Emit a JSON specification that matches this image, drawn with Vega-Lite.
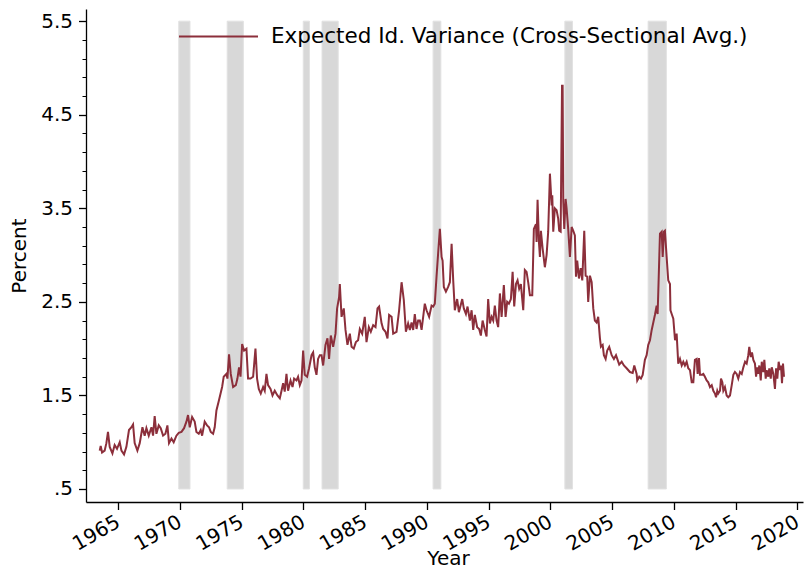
{
  "$schema": "https://vega.github.io/schema/vega-lite/v6.json",
  "width": 717,
  "height": 493,
  "autosize": {"type": "none"},
  "padding": {"left": 86, "top": 9, "right": 1, "bottom": 69},
  "config": {
    "view": {"stroke": null},
    "font": "DejaVu Sans",
    "axis": {"grid": false, "labelFont": "DejaVu Sans", "titleFont": "DejaVu Sans", "labelColor": "#000", "titleColor": "#000", "labelFontSize": 20, "titleFontSize": 20, "titleFontWeight": "normal", "domainColor": "#000", "tickColor": "#000"},
    "legend": {"labelFont": "DejaVu Sans", "labelFontSize": 21.5, "labelColor": "#000", "labelLimit": 0}
  },
  "datasets": {
    "rec": [
      {"start": 1969.92, "end": 1970.83},
      {"start": 1973.84, "end": 1975.15},
      {"start": 1980.0, "end": 1980.5},
      {"start": 1981.52, "end": 1982.83},
      {"start": 1990.51, "end": 1991.14},
      {"start": 2001.18, "end": 2001.8},
      {"start": 2007.92, "end": 2009.4}
    ],
    "series": [
      {"year":1963.52,"value":0.91},{"year":1963.60,"value":0.96},{"year":1963.71,"value":0.89},{"year":1963.92,"value":0.91},{"year":1964.06,"value":0.99},{"year":1964.19,"value":1.11},{"year":1964.33,"value":0.95},{"year":1964.55,"value":0.88},{"year":1964.73,"value":0.97},{"year":1964.92,"value":0.93},{"year":1965.14,"value":1.00},{"year":1965.28,"value":0.91},{"year":1965.49,"value":0.87},{"year":1965.68,"value":0.95},{"year":1965.89,"value":1.13},{"year":1966.09,"value":1.16},{"year":1966.22,"value":1.19},{"year":1966.35,"value":0.99},{"year":1966.57,"value":0.91},{"year":1966.76,"value":0.99},{"year":1966.98,"value":1.16},{"year":1967.16,"value":1.07},{"year":1967.30,"value":1.15},{"year":1967.49,"value":1.07},{"year":1967.71,"value":1.16},{"year":1967.84,"value":1.07},{"year":1967.97,"value":1.28},{"year":1968.11,"value":1.09},{"year":1968.30,"value":1.18},{"year":1968.46,"value":1.15},{"year":1968.65,"value":1.07},{"year":1968.84,"value":1.09},{"year":1969.00,"value":1.18},{"year":1969.13,"value":0.99},{"year":1969.33,"value":1.04},{"year":1969.51,"value":1.00},{"year":1969.73,"value":1.07},{"year":1969.92,"value":1.10},{"year":1970.14,"value":1.11},{"year":1970.35,"value":1.15},{"year":1970.54,"value":1.22},{"year":1970.67,"value":1.29},{"year":1970.81,"value":1.16},{"year":1971.00,"value":1.27},{"year":1971.21,"value":1.22},{"year":1971.35,"value":1.11},{"year":1971.54,"value":1.09},{"year":1971.70,"value":1.13},{"year":1971.81,"value":1.07},{"year":1972.02,"value":1.22},{"year":1972.21,"value":1.18},{"year":1972.37,"value":1.16},{"year":1972.51,"value":1.11},{"year":1972.70,"value":1.09},{"year":1972.83,"value":1.16},{"year":1972.97,"value":1.34},{"year":1973.18,"value":1.45},{"year":1973.43,"value":1.59},{"year":1973.56,"value":1.70},{"year":1973.78,"value":1.73},{"year":1973.86,"value":1.68},{"year":1973.99,"value":1.94},{"year":1974.13,"value":1.73},{"year":1974.32,"value":1.59},{"year":1974.54,"value":1.61},{"year":1974.67,"value":1.68},{"year":1974.80,"value":1.80},{"year":1974.92,"value":1.70},{"year":1975.05,"value":2.05},{"year":1975.21,"value":1.98},{"year":1975.40,"value":2.00},{"year":1975.53,"value":1.68},{"year":1975.73,"value":1.68},{"year":1975.94,"value":1.70},{"year":1976.13,"value":2.00},{"year":1976.26,"value":1.68},{"year":1976.40,"value":1.57},{"year":1976.56,"value":1.52},{"year":1976.75,"value":1.59},{"year":1976.88,"value":1.55},{"year":1977.02,"value":1.73},{"year":1977.15,"value":1.61},{"year":1977.35,"value":1.57},{"year":1977.51,"value":1.50},{"year":1977.69,"value":1.55},{"year":1977.91,"value":1.50},{"year":1978.10,"value":1.47},{"year":1978.24,"value":1.55},{"year":1978.37,"value":1.63},{"year":1978.50,"value":1.54},{"year":1978.64,"value":1.73},{"year":1978.77,"value":1.55},{"year":1978.97,"value":1.66},{"year":1979.13,"value":1.59},{"year":1979.26,"value":1.68},{"year":1979.45,"value":1.66},{"year":1979.58,"value":1.70},{"year":1979.72,"value":1.61},{"year":1979.86,"value":1.66},{"year":1979.99,"value":1.98},{"year":1980.12,"value":1.72},{"year":1980.31,"value":1.70},{"year":1980.47,"value":1.79},{"year":1980.67,"value":1.93},{"year":1980.80,"value":1.96},{"year":1980.93,"value":1.80},{"year":1981.07,"value":1.72},{"year":1981.20,"value":1.89},{"year":1981.34,"value":1.93},{"year":1981.48,"value":1.93},{"year":1981.61,"value":1.82},{"year":1981.80,"value":2.04},{"year":1981.96,"value":2.11},{"year":1982.09,"value":1.89},{"year":1982.23,"value":2.14},{"year":1982.42,"value":2.02},{"year":1982.61,"value":2.16},{"year":1982.74,"value":2.43},{"year":1982.90,"value":2.55},{"year":1982.96,"value":2.69},{"year":1983.10,"value":2.34},{"year":1983.28,"value":2.43},{"year":1983.42,"value":2.20},{"year":1983.58,"value":2.04},{"year":1983.77,"value":2.16},{"year":1983.91,"value":2.02},{"year":1984.09,"value":2.00},{"year":1984.26,"value":2.07},{"year":1984.44,"value":2.09},{"year":1984.58,"value":2.21},{"year":1984.77,"value":2.16},{"year":1984.98,"value":2.34},{"year":1985.12,"value":2.07},{"year":1985.31,"value":2.23},{"year":1985.47,"value":2.18},{"year":1985.66,"value":2.25},{"year":1985.85,"value":2.23},{"year":1986.01,"value":2.43},{"year":1986.14,"value":2.45},{"year":1986.34,"value":2.27},{"year":1986.47,"value":2.21},{"year":1986.66,"value":2.18},{"year":1986.82,"value":2.11},{"year":1986.95,"value":2.36},{"year":1987.15,"value":2.34},{"year":1987.28,"value":2.16},{"year":1987.55,"value":2.18},{"year":1987.76,"value":2.41},{"year":1987.96,"value":2.71},{"year":1988.14,"value":2.52},{"year":1988.31,"value":2.18},{"year":1988.49,"value":2.27},{"year":1988.63,"value":2.20},{"year":1988.77,"value":2.28},{"year":1988.90,"value":2.20},{"year":1989.03,"value":2.37},{"year":1989.17,"value":2.21},{"year":1989.30,"value":2.30},{"year":1989.44,"value":2.30},{"year":1989.58,"value":2.20},{"year":1989.84,"value":2.48},{"year":1989.98,"value":2.41},{"year":1990.19,"value":2.34},{"year":1990.39,"value":2.46},{"year":1990.52,"value":2.45},{"year":1990.65,"value":2.48},{"year":1990.79,"value":2.77},{"year":1990.92,"value":3.02},{"year":1991.06,"value":3.28},{"year":1991.20,"value":2.98},{"year":1991.28,"value":2.94},{"year":1991.38,"value":2.66},{"year":1991.55,"value":2.61},{"year":1991.73,"value":2.66},{"year":1991.87,"value":2.71},{"year":1992.01,"value":3.12},{"year":1992.14,"value":2.73},{"year":1992.27,"value":2.41},{"year":1992.46,"value":2.53},{"year":1992.60,"value":2.39},{"year":1992.74,"value":2.46},{"year":1992.87,"value":2.53},{"year":1993.00,"value":2.43},{"year":1993.17,"value":2.37},{"year":1993.30,"value":2.45},{"year":1993.49,"value":2.30},{"year":1993.63,"value":2.41},{"year":1993.76,"value":2.20},{"year":1993.89,"value":2.36},{"year":1994.08,"value":2.23},{"year":1994.24,"value":2.21},{"year":1994.38,"value":2.14},{"year":1994.52,"value":2.30},{"year":1994.70,"value":2.20},{"year":1994.84,"value":2.13},{"year":1994.97,"value":2.53},{"year":1995.11,"value":2.27},{"year":1995.25,"value":2.34},{"year":1995.38,"value":2.30},{"year":1995.51,"value":2.46},{"year":1995.65,"value":2.30},{"year":1995.78,"value":2.23},{"year":1995.92,"value":2.59},{"year":1996.06,"value":2.34},{"year":1996.24,"value":2.68},{"year":1996.38,"value":2.34},{"year":1996.51,"value":2.50},{"year":1996.65,"value":2.48},{"year":1996.81,"value":2.53},{"year":1996.95,"value":2.82},{"year":1997.08,"value":2.45},{"year":1997.22,"value":2.69},{"year":1997.35,"value":2.73},{"year":1997.48,"value":2.64},{"year":1997.62,"value":2.69},{"year":1997.81,"value":2.41},{"year":1997.94,"value":2.84},{"year":1998.08,"value":2.82},{"year":1998.21,"value":2.71},{"year":1998.35,"value":2.57},{"year":1998.54,"value":2.57},{"year":1998.67,"value":3.28},{"year":1998.84,"value":3.33},{"year":1998.89,"value":3.14},{"year":1998.97,"value":3.59},{"year":1999.08,"value":3.14},{"year":1999.16,"value":2.98},{"year":1999.24,"value":3.26},{"year":1999.38,"value":3.07},{"year":1999.48,"value":2.96},{"year":1999.56,"value":2.87},{"year":1999.70,"value":3.00},{"year":1999.83,"value":3.25},{"year":1999.97,"value":3.87},{"year":2000.11,"value":3.53},{"year":2000.16,"value":3.64},{"year":2000.24,"value":3.25},{"year":2000.37,"value":3.50},{"year":2000.51,"value":3.48},{"year":2000.64,"value":3.39},{"year":2000.72,"value":3.26},{"year":2000.84,"value":3.25},{"year":2000.95,"value":4.81},{"year":2001.00,"value":4.81},{"year":2001.05,"value":3.57},{"year":2001.13,"value":3.28},{"year":2001.24,"value":3.60},{"year":2001.32,"value":3.50},{"year":2001.45,"value":3.28},{"year":2001.59,"value":2.98},{"year":2001.73,"value":3.30},{"year":2001.86,"value":3.26},{"year":2001.99,"value":3.21},{"year":2002.08,"value":2.77},{"year":2002.18,"value":2.94},{"year":2002.32,"value":2.75},{"year":2002.46,"value":2.86},{"year":2002.59,"value":2.73},{"year":2002.75,"value":3.26},{"year":2002.86,"value":2.78},{"year":2002.99,"value":2.77},{"year":2003.07,"value":2.50},{"year":2003.21,"value":2.78},{"year":2003.35,"value":2.71},{"year":2003.48,"value":2.43},{"year":2003.61,"value":2.30},{"year":2003.75,"value":2.28},{"year":2003.88,"value":2.34},{"year":2004.02,"value":2.11},{"year":2004.10,"value":2.02},{"year":2004.24,"value":2.04},{"year":2004.34,"value":1.93},{"year":2004.48,"value":1.89},{"year":2004.61,"value":1.98},{"year":2004.77,"value":2.02},{"year":2004.97,"value":1.93},{"year":2005.15,"value":1.89},{"year":2005.32,"value":1.93},{"year":2005.45,"value":1.88},{"year":2005.58,"value":1.83},{"year":2005.78,"value":1.86},{"year":2005.96,"value":1.82},{"year":2006.18,"value":1.79},{"year":2006.45,"value":1.75},{"year":2006.67,"value":1.74},{"year":2006.80,"value":1.82},{"year":2006.99,"value":1.73},{"year":2007.04,"value":1.66},{"year":2007.20,"value":1.70},{"year":2007.34,"value":1.68},{"year":2007.48,"value":1.72},{"year":2007.66,"value":1.88},{"year":2007.80,"value":1.93},{"year":2007.93,"value":2.04},{"year":2008.07,"value":2.09},{"year":2008.21,"value":2.20},{"year":2008.34,"value":2.28},{"year":2008.47,"value":2.36},{"year":2008.61,"value":2.46},{"year":2008.69,"value":2.37},{"year":2008.74,"value":2.59},{"year":2008.88,"value":3.23},{"year":2009.02,"value":3.25},{"year":2009.10,"value":2.98},{"year":2009.20,"value":3.25},{"year":2009.28,"value":3.26},{"year":2009.42,"value":2.98},{"year":2009.55,"value":2.73},{"year":2009.69,"value":2.69},{"year":2009.73,"value":2.41},{"year":2009.83,"value":2.37},{"year":2009.96,"value":2.32},{"year":2010.10,"value":2.09},{"year":2010.23,"value":2.16},{"year":2010.36,"value":1.84},{"year":2010.50,"value":1.89},{"year":2010.64,"value":1.82},{"year":2010.77,"value":1.86},{"year":2010.90,"value":1.82},{"year":2011.04,"value":1.86},{"year":2011.17,"value":1.79},{"year":2011.31,"value":1.77},{"year":2011.45,"value":1.64},{"year":2011.58,"value":1.64},{"year":2011.71,"value":1.88},{"year":2011.85,"value":1.89},{"year":2011.93,"value":1.73},{"year":2012.04,"value":1.90},{"year":2012.12,"value":1.72},{"year":2012.26,"value":1.72},{"year":2012.39,"value":1.73},{"year":2012.52,"value":1.70},{"year":2012.66,"value":1.66},{"year":2012.79,"value":1.64},{"year":2012.93,"value":1.59},{"year":2013.07,"value":1.61},{"year":2013.20,"value":1.55},{"year":2013.33,"value":1.52},{"year":2013.42,"value":1.48},{"year":2013.52,"value":1.55},{"year":2013.60,"value":1.52},{"year":2013.74,"value":1.55},{"year":2013.82,"value":1.68},{"year":2013.93,"value":1.64},{"year":2014.01,"value":1.55},{"year":2014.14,"value":1.59},{"year":2014.28,"value":1.50},{"year":2014.41,"value":1.48},{"year":2014.55,"value":1.50},{"year":2014.69,"value":1.61},{"year":2014.82,"value":1.72},{"year":2014.95,"value":1.75},{"year":2015.09,"value":1.73},{"year":2015.22,"value":1.68},{"year":2015.36,"value":1.75},{"year":2015.50,"value":1.73},{"year":2015.63,"value":1.80},{"year":2015.77,"value":1.86},{"year":2015.90,"value":1.84},{"year":2016.03,"value":1.93},{"year":2016.11,"value":2.02},{"year":2016.23,"value":1.91},{"year":2016.33,"value":1.96},{"year":2016.44,"value":1.88},{"year":2016.57,"value":1.84},{"year":2016.66,"value":1.70},{"year":2016.76,"value":1.80},{"year":2016.84,"value":1.73},{"year":2016.92,"value":1.82},{"year":2017.04,"value":1.66},{"year":2017.12,"value":1.86},{"year":2017.25,"value":1.75},{"year":2017.33,"value":1.88},{"year":2017.44,"value":1.68},{"year":2017.52,"value":1.77},{"year":2017.65,"value":1.70},{"year":2017.73,"value":1.79},{"year":2017.85,"value":1.68},{"year":2017.93,"value":1.80},{"year":2018.06,"value":1.73},{"year":2018.19,"value":1.57},{"year":2018.28,"value":1.79},{"year":2018.38,"value":1.68},{"year":2018.49,"value":1.86},{"year":2018.60,"value":1.77},{"year":2018.68,"value":1.82},{"year":2018.76,"value":1.63},{"year":2018.84,"value":1.84},{"year":2018.92,"value":1.70}
    ]
  },
  "layer": [
    {
      "data": {"name": "rec"},
      "mark": {"type": "rect", "fill": "#d8d8d8", "stroke": "#e2e2e2", "strokeWidth": 1},
      "encoding": {
        "x": {"field": "start", "type": "quantitative", "scale": {"domain": [1962.41, 2020.46], "nice": false, "zero": false},
              "axis": {"title": "Year", "values": [1965,1970,1975,1980,1985,1990,1995,2000,2005,2010,2015,2020], "format": "d", "labelAngle": -30, "labelAlign": "right", "labelBaseline": "top", "labelOffset": -5, "tickSize": 7.5, "tickWidth": 1.3, "domainWidth": 1.3, "labelPadding": 2, "titleX": 362, "titleY": 62, "titleBaseline": "alphabetic", "titleAlign": "center", "labelFlush": false, "labelOverlap": false}},
        "x2": {"field": "end"},
        "y": {"datum": 0.5, "type": "quantitative", "scale": {"domain": [0.361, 5.63], "nice": false, "zero": false},
              "axis": {"orient": "left", "values": [0.5,0.7,0.9,1.1,1.3,1.5,1.7,1.9,2.1,2.3,2.5,2.7,2.9,3.1,3.3,3.5,3.7,3.9,4.1,4.3,4.5,4.7,4.9,5.1,5.3,5.5], "labels": false, "domain": false, "title": null, "tickSize": 4, "tickWidth": 1}},
        "y2": {"datum": 5.5}
      }
    },
    {
      "data": {"name": "series"},
      "mark": {"type": "line", "strokeWidth": 2, "interpolate": "linear"},
      "encoding": {
        "x": {"field": "year", "type": "quantitative"},
        "y": {"field": "value", "type": "quantitative",
              "axis": {"orient": "left", "title": "Percent", "values": [0.5,1.5,2.5,3.5,4.5,5.5], "labelExpr": "datum.value == 0.5 ? '.5' : format(datum.value, '.1f')", "tickSize": 7.5, "tickWidth": 1.3, "domainWidth": 1.3, "labelPadding": 6, "titlePadding": 11}},
        "color": {"datum": "Expected Id. Variance (Cross-Sectional Avg.)", "type": "nominal",
                  "scale": {"range": ["#8c2f3b"]},
                  "legend": {"title": null, "orient": "none", "legendX": 92, "legendY": -13, "symbolType": "stroke", "symbolSize": 6241, "symbolStrokeWidth": 2, "labelOffset": 12, "labelLimit": 0, "padding": 0}}
      }
    }
  ],
  "resolve": {"axis": {"y": "independent"}}
}
